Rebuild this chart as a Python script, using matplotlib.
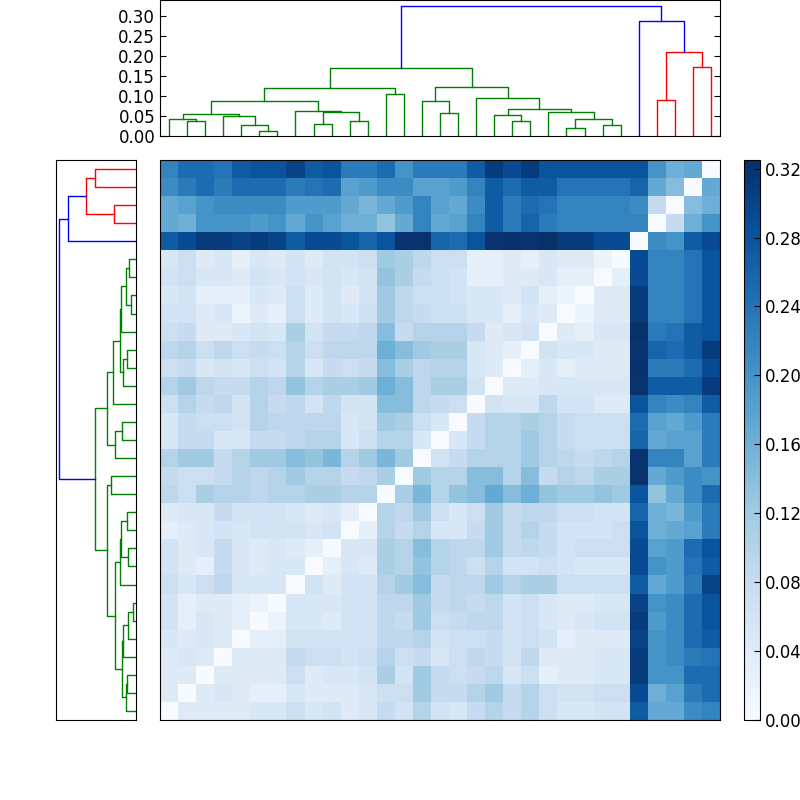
import numpy as np
import matplotlib
matplotlib.use("Agg")
import matplotlib.pyplot as plt

# ---------------- data ----------------
# rows 0-4 of the heatmap (outlier group), 31 columns
outlier_rows = [
    [0.22,0.25,0.25,0.24,0.27,0.28,0.28,0.30,0.27,0.28,0.23,0.23,0.25,0.20,0.23,0.23,0.23,0.27,0.31,0.29,0.31,0.28,0.28,0.28,0.28,0.28,0.28,0.20,0.16,0.17,0.00],
    [0.21,0.23,0.25,0.23,0.25,0.25,0.25,0.23,0.24,0.25,0.18,0.19,0.21,0.21,0.18,0.18,0.19,0.22,0.27,0.25,0.27,0.27,0.24,0.24,0.24,0.24,0.26,0.17,0.14,0.00,0.17],
    [0.17,0.18,0.20,0.21,0.21,0.21,0.21,0.19,0.19,0.19,0.17,0.15,0.17,0.19,0.22,0.18,0.17,0.21,0.27,0.23,0.25,0.24,0.22,0.22,0.22,0.22,0.21,0.08,0.00,0.14,0.16],
    [0.17,0.16,0.20,0.20,0.20,0.19,0.20,0.17,0.20,0.18,0.16,0.16,0.13,0.17,0.22,0.17,0.18,0.22,0.27,0.23,0.26,0.23,0.22,0.22,0.22,0.22,0.22,0.00,0.08,0.16,0.20],
    [0.27,0.29,0.31,0.31,0.30,0.31,0.30,0.27,0.29,0.29,0.28,0.26,0.28,0.32,0.32,0.26,0.25,0.28,0.32,0.33,0.32,0.33,0.31,0.31,0.29,0.29,0.00,0.21,0.20,0.27,0.29],
]
# rows 5-30, columns 0-25 (main group)
cluster_rows = [
    [0.05,0.07,0.04,0.05,0.03,0.05,0.04,0.06,0.04,0.06,0.06,0.07,0.12,0.11,0.09,0.07,0.07,0.03,0.03,0.04,0.03,0.05,0.04,0.04,0.02,0.00],
    [0.06,0.07,0.05,0.05,0.04,0.06,0.05,0.06,0.05,0.06,0.05,0.06,0.13,0.11,0.08,0.07,0.06,0.03,0.03,0.04,0.04,0.05,0.03,0.03,0.00,0.03],
    [0.05,0.06,0.03,0.03,0.03,0.05,0.04,0.07,0.04,0.06,0.04,0.06,0.12,0.09,0.07,0.07,0.06,0.05,0.05,0.04,0.06,0.03,0.02,0.00,0.04,0.04],
    [0.06,0.06,0.04,0.05,0.02,0.04,0.03,0.07,0.04,0.06,0.05,0.07,0.12,0.09,0.08,0.07,0.07,0.05,0.05,0.03,0.05,0.04,0.00,0.02,0.04,0.04],
    [0.07,0.08,0.04,0.04,0.05,0.06,0.05,0.11,0.06,0.08,0.08,0.09,0.14,0.08,0.10,0.10,0.10,0.08,0.04,0.05,0.06,0.00,0.04,0.03,0.05,0.05],
    [0.09,0.10,0.07,0.09,0.07,0.08,0.07,0.10,0.07,0.09,0.09,0.09,0.16,0.14,0.12,0.11,0.11,0.05,0.04,0.03,0.00,0.06,0.05,0.05,0.04,0.04],
    [0.07,0.08,0.05,0.06,0.05,0.07,0.06,0.10,0.05,0.08,0.07,0.08,0.14,0.11,0.09,0.10,0.10,0.05,0.04,0.00,0.03,0.05,0.03,0.04,0.04,0.04],
    [0.10,0.12,0.09,0.08,0.08,0.10,0.09,0.13,0.10,0.11,0.11,0.12,0.16,0.14,0.09,0.11,0.11,0.06,0.00,0.04,0.04,0.05,0.05,0.05,0.05,0.05],
    [0.07,0.10,0.08,0.09,0.06,0.10,0.08,0.09,0.06,0.09,0.06,0.06,0.14,0.14,0.09,0.08,0.07,0.00,0.06,0.05,0.05,0.09,0.06,0.06,0.04,0.04],
    [0.05,0.08,0.07,0.07,0.06,0.10,0.09,0.09,0.09,0.09,0.05,0.06,0.12,0.11,0.07,0.05,0.00,0.08,0.10,0.10,0.11,0.10,0.08,0.07,0.07,0.07],
    [0.05,0.08,0.08,0.05,0.05,0.08,0.08,0.09,0.10,0.10,0.05,0.07,0.10,0.10,0.05,0.00,0.05,0.08,0.10,0.10,0.12,0.10,0.08,0.07,0.07,0.07],
    [0.10,0.12,0.12,0.08,0.10,0.12,0.12,0.14,0.13,0.15,0.10,0.12,0.15,0.12,0.00,0.06,0.08,0.10,0.10,0.10,0.12,0.10,0.09,0.08,0.09,0.10],
    [0.08,0.07,0.07,0.08,0.10,0.09,0.10,0.12,0.10,0.10,0.08,0.09,0.11,0.00,0.12,0.10,0.10,0.14,0.14,0.10,0.14,0.08,0.10,0.09,0.11,0.11],
    [0.09,0.07,0.11,0.10,0.10,0.09,0.10,0.10,0.11,0.11,0.10,0.10,0.00,0.11,0.15,0.10,0.13,0.14,0.17,0.14,0.16,0.13,0.12,0.12,0.13,0.12],
    [0.04,0.05,0.05,0.08,0.06,0.06,0.06,0.05,0.04,0.05,0.03,0.00,0.10,0.09,0.12,0.07,0.05,0.07,0.12,0.08,0.09,0.09,0.07,0.07,0.06,0.06],
    [0.03,0.04,0.05,0.06,0.05,0.06,0.06,0.06,0.05,0.06,0.00,0.03,0.10,0.08,0.10,0.05,0.05,0.08,0.12,0.08,0.10,0.08,0.06,0.06,0.06,0.07],
    [0.06,0.04,0.05,0.08,0.05,0.04,0.05,0.04,0.03,0.00,0.05,0.05,0.11,0.10,0.14,0.10,0.09,0.09,0.12,0.08,0.09,0.08,0.06,0.07,0.07,0.07],
    [0.06,0.04,0.03,0.08,0.05,0.04,0.05,0.05,0.00,0.03,0.05,0.04,0.11,0.10,0.13,0.10,0.09,0.07,0.10,0.06,0.06,0.07,0.06,0.05,0.05,0.05],
    [0.07,0.05,0.07,0.09,0.05,0.05,0.05,0.00,0.06,0.04,0.06,0.06,0.10,0.12,0.14,0.08,0.09,0.09,0.12,0.10,0.11,0.11,0.07,0.07,0.07,0.07],
    [0.06,0.03,0.04,0.04,0.03,0.02,0.00,0.05,0.05,0.05,0.06,0.06,0.09,0.09,0.12,0.08,0.09,0.08,0.09,0.06,0.07,0.05,0.04,0.04,0.05,0.05],
    [0.06,0.03,0.05,0.04,0.03,0.00,0.02,0.05,0.05,0.04,0.06,0.06,0.09,0.08,0.12,0.07,0.08,0.09,0.09,0.06,0.07,0.05,0.04,0.05,0.06,0.06],
    [0.05,0.04,0.05,0.04,0.00,0.03,0.03,0.06,0.06,0.06,0.06,0.06,0.09,0.09,0.10,0.06,0.07,0.07,0.08,0.06,0.07,0.06,0.03,0.04,0.04,0.04],
    [0.04,0.05,0.04,0.00,0.04,0.04,0.04,0.08,0.07,0.07,0.06,0.07,0.10,0.07,0.08,0.05,0.07,0.09,0.08,0.06,0.09,0.04,0.04,0.04,0.05,0.05],
    [0.04,0.04,0.00,0.04,0.04,0.04,0.04,0.07,0.04,0.05,0.05,0.06,0.11,0.06,0.12,0.08,0.07,0.08,0.09,0.05,0.07,0.03,0.04,0.04,0.05,0.05],
    [0.04,0.00,0.04,0.05,0.04,0.03,0.03,0.05,0.04,0.04,0.04,0.05,0.07,0.07,0.12,0.08,0.08,0.10,0.12,0.08,0.10,0.07,0.06,0.06,0.07,0.07],
    [0.00,0.04,0.04,0.04,0.04,0.05,0.05,0.07,0.05,0.06,0.04,0.05,0.08,0.06,0.10,0.06,0.05,0.08,0.10,0.08,0.10,0.07,0.05,0.05,0.06,0.06],
]

# linkage (child a, child b, height); leaves 0..30, new clusters numbered from 31
top_links = [
    (1,2,0.037),(0,31,0.042),(5,6,0.012),(4,33,0.028),(3,34,0.049),(32,35,0.055),
    (8,9,0.031),(10,11,0.037),(37,38,0.059),(7,39,0.063),(36,40,0.0875),(12,13,0.104),
    (41,42,0.12),(15,16,0.057),(14,44,0.0875),(19,20,0.037),(18,46,0.0525),(22,23,0.019),
    (24,25,0.027),(48,49,0.042),(21,50,0.059),(47,51,0.067),(17,52,0.095),(45,53,0.1225),
    (43,54,0.17),(27,28,0.091),(29,30,0.173),(56,57,0.211),(26,58,0.2875),(55,59,0.324),
]
left_links = [
    (0,1,124),(2,3,67),(31,32,152),(4,33,205),(5,6,20),(7,8,15),(35,36,31),(9,37,45),
    (10,11,28),(12,39,38),(38,40,49),(13,41,70),(14,15,42),(16,43,63),(42,44,89),
    (17,18,76),(19,20,27),(21,22,24),(47,48,45),(23,49,47),(24,25,10),(26,51,23),
    (27,52,38),(28,29,28),(30,54,30),(53,55,41),(50,56,63),(46,57,87),(45,58,123),(34,59,232),
]

n = 31
M = np.zeros((n, n))
M[:5, :] = np.array(outlier_rows)
M[5:, :26] = np.array(cluster_rows)
for r in range(5, n):
    for c in range(26, n):
        M[r, c] = M[n - 1 - c, n - 1 - r]


def draw_dendro(ax, links, leaf_pos, orient):
    pos = dict(enumerate(leaf_pos))
    hgt = {i: 0.0 for i in range(n)}
    kids = {}
    for k, (a, b, h) in enumerate(links):
        cid = n + k
        pos[cid] = (pos[a] + pos[b]) / 2.0
        hgt[cid] = h
        kids[cid] = (a, b)
    root = n + len(links) - 1
    thr = 0.7 * hgt[root]
    # find colored subtrees
    parent = {}
    for c, (a, b) in kids.items():
        parent[a] = c
        parent[b] = c
    croots = [c for c in kids if hgt[c] < thr and hgt[parent[c]] >= thr]
    croots.sort(key=lambda c: pos[c])
    cycle = ['g', 'r', 'c', 'm', 'y', 'k']
    col = {}
    for i, c in enumerate(croots):
        stack = [c]
        while stack:
            x = stack.pop()
            if x in kids:
                col[x] = cycle[i % len(cycle)]
                stack.extend(kids[x])
    for c, (a, b) in kids.items():
        color = col.get(c, 'b')
        p = [pos[a], pos[a], pos[b], pos[b]]
        h = [hgt[a], hgt[c], hgt[c], hgt[b]]
        if orient == 'top':
            ax.plot(p, h, color=color, lw=1)
        else:
            ax.plot(h, p, color=color, lw=1)


fig = plt.figure(figsize=(8, 8), dpi=100, facecolor='white')

# left dendrogram
axl = fig.add_axes([0.07, 0.1, 0.1, 0.7])
draw_dendro(axl, left_links, [5 + 10 * (n - 1 - k) for k in range(n)], 'left')
axl.set_ylim(0, 10 * n)
axl.set_xlim(242, 0)
axl.set_xticks([])
axl.set_yticks([])

# top dendrogram
axt = fig.add_axes([0.2, 0.83, 0.7, 0.17])
draw_dendro(axt, top_links, [5 + 10 * i for i in range(n)], 'top')
axt.set_xlim(0, 10 * n)
axt.set_ylim(0, 0.34)
axt.set_xticks([])
axt.set_yticks(np.arange(0, 0.31, 0.05))
axt.set_yticklabels(['%.2f' % v for v in np.arange(0, 0.31, 0.05)])
axt.tick_params(axis='y', direction='in', left=True, right=True, labelsize=12, length=4)

# heatmap
axm = fig.add_axes([0.2, 0.1, 0.7, 0.7])
im = axm.imshow(M, aspect='auto', origin='upper', cmap='Blues', vmin=0, vmax=0.325,
                interpolation='nearest')
axm.set_xticks([])
axm.set_yticks([])

# colorbar
axc = fig.add_axes([0.93, 0.1, 0.02, 0.7])
cb = fig.colorbar(im, cax=axc, ticks=np.arange(0, 0.33, 0.04))
cb.ax.set_yticklabels(['%.2f' % v for v in np.arange(0, 0.33, 0.04)])
cb.ax.tick_params(direction='in', labelsize=12, length=4)

fig.savefig('out.png', dpi=100, facecolor='white')
